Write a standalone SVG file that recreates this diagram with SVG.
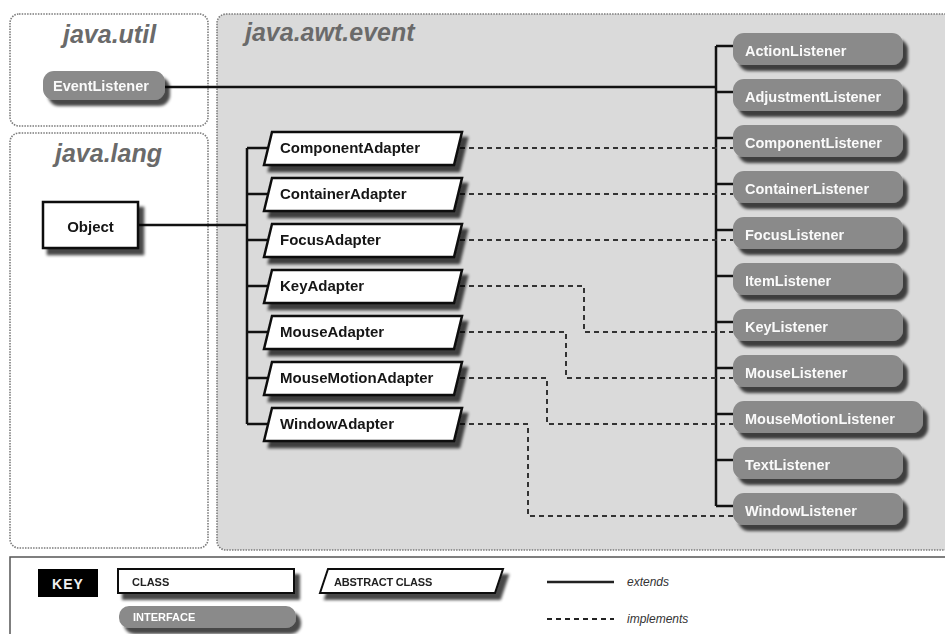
<svg xmlns="http://www.w3.org/2000/svg" width="945" height="634" viewBox="0 0 945 634">
  <defs>
    <filter id="drop" x="-10%" y="-30%" width="130%" height="180%">
      <feGaussianBlur in="SourceAlpha" stdDeviation="1.6"/>
      <feOffset dx="5" dy="6" result="off"/>
      <feComponentTransfer><feFuncA type="linear" slope="0.72"/></feComponentTransfer>
      <feMerge><feMergeNode/><feMergeNode in="SourceGraphic"/></feMerge>
    </filter>
    <style>
      .pkg { stroke: #7a7a7a; stroke-width: 1.6; stroke-dasharray: 1.5 1.2; }
      .pkgTitle { font-family: "Liberation Sans", Arial, sans-serif; font-weight: bold; font-style: italic; font-size: 25px; fill: #6a6a6a; }
      .cls { fill: #fff; stroke: #111; stroke-width: 2.5; stroke-linejoin: miter; }
      .clsText { font-family: "Liberation Sans", Arial, sans-serif; font-weight: bold; font-size: 15px; fill: #151515; }
      .ifc { fill: #8a8a8a; }
      .ifcText { font-family: "Liberation Sans", Arial, sans-serif; font-weight: bold; font-size: 14.5px; fill: #fafafa; }
      .ext { fill: none; stroke: #111; stroke-width: 2.5; }
      .impl { fill: none; stroke: #333; stroke-width: 2; stroke-dasharray: 5 4; }
      .keyText { font-family: "Liberation Sans", Arial, sans-serif; font-weight: bold; font-size: 11px; }
      .legend { font-family: "Liberation Sans", Arial, sans-serif; font-style: italic; font-size: 12px; fill: #333; }
    </style>
  </defs>

  <rect width="945" height="634" fill="#fff"/>

  <!-- package areas -->
  <g id="pkg-java-util">
    <rect class="pkg" x="10" y="14" width="198" height="112" rx="9" fill="#fff"/>
    <text class="pkgTitle" x="63" y="43">java.util</text>
  </g>
  <g id="pkg-java-lang">
    <rect class="pkg" x="10" y="133" width="198" height="415" rx="9" fill="#fff"/>
    <text class="pkgTitle" x="55" y="162">java.lang</text>
  </g>
  <g id="pkg-java-awt-event">
    <rect class="pkg" x="217" y="14" width="745" height="536" rx="9" fill="#dadada"/>
    <text class="pkgTitle" x="245" y="41">java.awt.event</text>
  </g>

  <!-- connectors -->
  <g id="connectors">
    <!-- extends -->
    <path class="ext" d="M165,87 H716"/>
    <path class="ext" d="M716,46 V506"/>
    <path class="ext" d="M716,46 H733 M716,92 H733 M716,138 H733 M716,184 H733 M716,230 H733 M716,276 H733 M716,322 H733 M716,368 H733 M716,414 H733 M716,460 H733 M716,506 H733"/>
    <path class="ext" d="M138,225 H247"/>
    <path class="ext" d="M247,148 V424"/>
    <path class="ext" d="M247,148 H268 M247,194 H268 M247,240 H268 M247,286 H268 M247,332 H268 M247,378 H268 M247,424 H268"/>
    <!-- implements -->
    <path class="impl" d="M460,148 H733"/>
    <path class="impl" d="M460,194 H733"/>
    <path class="impl" d="M460,240 H733"/>
    <path class="impl" d="M460,286 H584 V332 H733"/>
    <path class="impl" d="M460,332 H566 V378 H733"/>
    <path class="impl" d="M460,378 H547 V424 H733"/>
    <path class="impl" d="M460,424 H528 V516 H733"/>
  </g>

  <!-- java.util -->
  <g id="EventListener" filter="url(#drop)">
    <rect class="ifc" x="43" y="71" width="122" height="29" rx="11"/>
    <text class="ifcText" x="53" y="91" font-size="15">EventListener</text>
  </g>

  <!-- java.lang -->
  <g id="Object" filter="url(#drop)">
    <rect class="cls" x="43" y="202" width="95" height="46"/>
    <text class="clsText" x="90.5" y="232" text-anchor="middle" font-size="17.5">Object</text>
  </g>

  <!-- abstract adapter classes -->
  <g id="ComponentAdapter" filter="url(#drop)">
    <path class="cls" d="M272,132 L462,132 L454,165 L264,165 Z"/>
    <text class="clsText" x="280" y="153">ComponentAdapter</text>
  </g>
  <g id="ContainerAdapter" filter="url(#drop)">
    <path class="cls" d="M272,178 L462,178 L454,211 L264,211 Z"/>
    <text class="clsText" x="280" y="199">ContainerAdapter</text>
  </g>
  <g id="FocusAdapter" filter="url(#drop)">
    <path class="cls" d="M272,224 L462,224 L454,257 L264,257 Z"/>
    <text class="clsText" x="280" y="245">FocusAdapter</text>
  </g>
  <g id="KeyAdapter" filter="url(#drop)">
    <path class="cls" d="M272,270 L462,270 L454,303 L264,303 Z"/>
    <text class="clsText" x="280" y="291">KeyAdapter</text>
  </g>
  <g id="MouseAdapter" filter="url(#drop)">
    <path class="cls" d="M272,316 L462,316 L454,349 L264,349 Z"/>
    <text class="clsText" x="280" y="337">MouseAdapter</text>
  </g>
  <g id="MouseMotionAdapter" filter="url(#drop)">
    <path class="cls" d="M272,362 L462,362 L454,395 L264,395 Z"/>
    <text class="clsText" x="280" y="383">MouseMotionAdapter</text>
  </g>
  <g id="WindowAdapter" filter="url(#drop)">
    <path class="cls" d="M272,408 L462,408 L454,441 L264,441 Z"/>
    <text class="clsText" x="280" y="429">WindowAdapter</text>
  </g>

  <!-- listener interfaces -->
  <g id="ActionListener" filter="url(#drop)">
    <rect class="ifc" x="733" y="33" width="170" height="32" rx="11"/>
    <text class="ifcText" x="745" y="56">ActionListener</text>
  </g>
  <g id="AdjustmentListener" filter="url(#drop)">
    <rect class="ifc" x="733" y="79" width="170" height="32" rx="11"/>
    <text class="ifcText" x="745" y="102">AdjustmentListener</text>
  </g>
  <g id="ComponentListener" filter="url(#drop)">
    <rect class="ifc" x="733" y="125" width="170" height="32" rx="11"/>
    <text class="ifcText" x="745" y="148">ComponentListener</text>
  </g>
  <g id="ContainerListener" filter="url(#drop)">
    <rect class="ifc" x="733" y="171" width="170" height="32" rx="11"/>
    <text class="ifcText" x="745" y="194">ContainerListener</text>
  </g>
  <g id="FocusListener" filter="url(#drop)">
    <rect class="ifc" x="733" y="217" width="170" height="32" rx="11"/>
    <text class="ifcText" x="745" y="240">FocusListener</text>
  </g>
  <g id="ItemListener" filter="url(#drop)">
    <rect class="ifc" x="733" y="263" width="170" height="32" rx="11"/>
    <text class="ifcText" x="745" y="286">ItemListener</text>
  </g>
  <g id="KeyListener" filter="url(#drop)">
    <rect class="ifc" x="733" y="309" width="170" height="32" rx="11"/>
    <text class="ifcText" x="745" y="332">KeyListener</text>
  </g>
  <g id="MouseListener" filter="url(#drop)">
    <rect class="ifc" x="733" y="355" width="170" height="32" rx="11"/>
    <text class="ifcText" x="745" y="378">MouseListener</text>
  </g>
  <g id="MouseMotionListener" filter="url(#drop)">
    <rect class="ifc" x="733" y="401" width="190" height="32" rx="11"/>
    <text class="ifcText" x="745" y="424">MouseMotionListener</text>
  </g>
  <g id="TextListener" filter="url(#drop)">
    <rect class="ifc" x="733" y="447" width="170" height="32" rx="11"/>
    <text class="ifcText" x="745" y="470">TextListener</text>
  </g>
  <g id="WindowListener" filter="url(#drop)">
    <rect class="ifc" x="733" y="493" width="170" height="32" rx="11"/>
    <text class="ifcText" x="745" y="516">WindowListener</text>
  </g>

  <!-- legend -->
  <g id="key">
    <rect x="10" y="557" width="945" height="82" fill="#fff" stroke="#555" stroke-width="1.5"/>
    <rect x="38" y="569" width="60" height="28" fill="#000"/>
    <text x="68" y="589" text-anchor="middle" font-family="Liberation Sans, Arial, sans-serif" font-size="14" font-weight="bold" letter-spacing="1" fill="#eee">KEY</text>
    <g filter="url(#drop)">
      <rect x="118" y="569" width="176" height="24" fill="#fff" stroke="#111" stroke-width="2"/>
      <text class="keyText" x="132" y="586" fill="#222">CLASS</text>
    </g>
    <g filter="url(#drop)">
      <rect x="119" y="606" width="177" height="22" rx="10" fill="#8a8a8a"/>
      <text class="keyText" x="133" y="621" fill="#fff">INTERFACE</text>
    </g>
    <g filter="url(#drop)">
      <path d="M328,569 L503,569 L495,593 L320,593 Z" fill="#fff" stroke="#111" stroke-width="2"/>
      <text class="keyText" x="334" y="586" fill="#222" letter-spacing="-0.2">ABSTRACT CLASS</text>
    </g>
    <path d="M547,582 H614" stroke="#222" stroke-width="2.5"/>
    <text class="legend" x="627" y="586">extends</text>
    <path d="M547,619 H614" stroke="#222" stroke-width="2" stroke-dasharray="5 4"/>
    <text class="legend" x="627" y="623">implements</text>
  </g>
</svg>
